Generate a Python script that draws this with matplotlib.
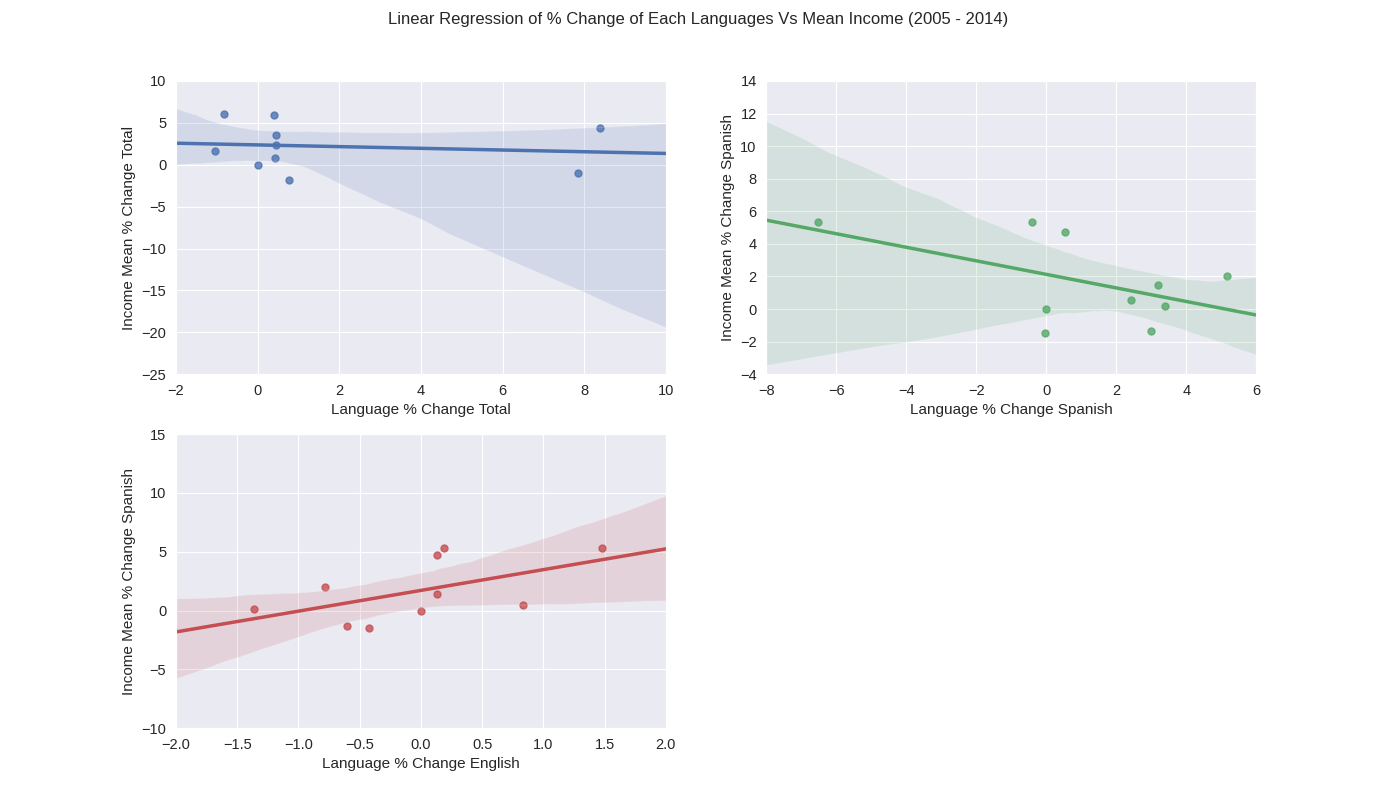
import matplotlib
matplotlib.use("Agg")
import matplotlib.pyplot as plt
import seaborn as sns
import numpy as np

sns.set_style("darkgrid")
plt.rcParams['font.family'] = ['Liberation Sans', 'DejaVu Sans']

total_x = [-0.82, -1.04, 0.0, 0.4, 0.45, 0.45, 0.43, 0.77, 7.85, 8.39]
total_y = [6.1, 1.7, 0.0, 5.9, 3.5, 2.4, 0.8, -1.8, -1.0, 4.4]
span_x = [-6.54, -0.4, 0.54, 0.0, -0.03, 2.43, 3.2, 3.4, 3.0, 5.17]
span_y = [5.35, 5.35, 4.7, 0.0, -1.5, 0.55, 1.5, 0.2, -1.35, 2.0]
eng_x = [-1.36, -0.78, -0.6, -0.42, 0.0, 0.13, 0.19, 0.13, 0.83, 1.48]
eng_y = [0.1, 2.0, -1.35, -1.5, -0.05, 4.7, 5.3, 1.45, 0.5, 5.3]

fig = plt.figure(figsize=(13.96, 8.1), dpi=100)
ax1 = fig.add_axes([0.126, 0.538, 0.351, 0.362])
ax2 = fig.add_axes([0.549, 0.538, 0.351, 0.362])
ax3 = fig.add_axes([0.126, 0.101, 0.351, 0.363])

specs = [
    (ax1, total_x, total_y, "#4C72B0", (-2, 10), (-25, 10), "Language % Change Total", "Income Mean % Change Total"),
    (ax2, span_x, span_y, "#55A868", (-8, 6), (-4, 14), "Language % Change Spanish", "Income Mean % Change Spanish"),
    (ax3, eng_x, eng_y, "#C44E52", (-2, 2), (-10, 15), "Language % Change English", "Income Mean % Change Spanish"),
]
for ax, x, y, c, xl, yl, xlab, ylab in specs:
    ax.set_xlim(*xl)
    ax.set_ylim(*yl)
    sns.regplot(x=np.array(x), y=np.array(y), ax=ax, color=c, truncate=False, seed=1,
                scatter_kws={"s": 25}, line_kws={"lw": 2.5})
    ax.set_xlim(*xl)
    ax.set_ylim(*yl)
    ax.set_xlabel(xlab, fontsize=11)
    ax.set_ylabel(ylab, fontsize=11)
    ax.tick_params(labelsize=10.5)

fig.suptitle("Linear Regression of % Change of Each Languages Vs Mean Income (2005 - 2014)", fontsize=12, y=0.985)
fig.savefig("out.png", dpi=100)
